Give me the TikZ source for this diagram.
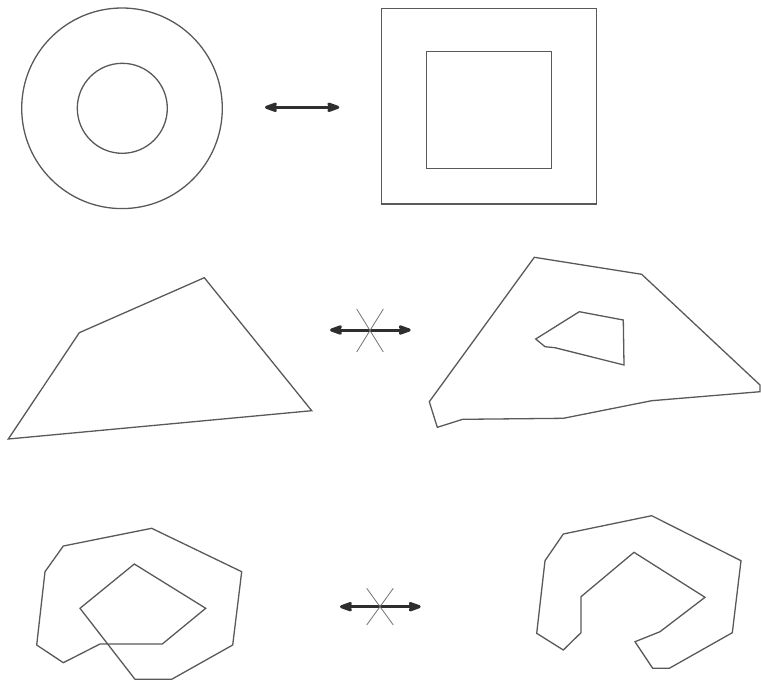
\documentclass[tikz,border=0pt]{standalone}
\usetikzlibrary{arrows.meta}
\begin{document}
\begin{tikzpicture}[
    x=1pt, y=-1pt,
    outline/.style={draw=black!65, line width=1.3pt, line join=miter},
    equiv/.style={{Stealth[length=17pt,width=12pt,inset=4pt,round]}-{Stealth[length=17pt,width=12pt,inset=4pt,round]},
      line width=3pt, draw=black!82},
    cross/.style={draw=black!55, line width=0.8pt}
  ]
  \useasboundingbox (0,0) rectangle (761,681);
  % top row
  \draw[outline] (122,108.3) circle[radius=100.3];
  \draw[outline] (122.3,108.3) circle[radius=45];
  \draw[outline] (381.7,8.3) rectangle (596.7,204);
  \draw[outline] (426.7,51.7) rectangle (551.7,168.3);
  \coordinate (l1) at (265,107.3);
  \coordinate (r1) at (339.3,107.3);
  \draw[equiv] (l1) -- (r1);
  % middle row
  \draw[outline] (204.3,277.7) -- (79.3,332.7) -- (8.3,439) -- (311.7,410.7) -- cycle;
  \draw[outline] (534.3,257.3) -- (641.7,274.3) -- (760,385) -- (760,391.7)
    -- (651.7,400.7) -- (563.3,418.3) -- (462.7,419.3) -- (437.3,427.3)
    -- (429.3,401.7) -- cycle;
  \draw[outline] (579.3,311.7) -- (623.3,320) -- (624,365) -- (555,347.7)
    -- (545,346.7) -- (535.7,339) -- cycle;
  \coordinate (l2) at (330,330);
  \coordinate (r2) at (410.7,330);
  \draw[equiv] (l2) -- (r2);
  \draw[cross] (356.7,309) -- (383.3,352) (383.3,309) -- (356.7,352);
  % bottom row
  \draw[outline] (63.3,546) -- (151.7,528.3) -- (241.7,571.7) -- (232.7,645)
    -- (171.7,679.3) -- (135,679.3) -- (80,608.3) -- (134.3,564)
    -- (205.7,608.3) -- (162.3,644) -- (100,644) -- (63.3,662.7)
    -- (36.7,645) -- (45,571.7) -- cycle;
  \draw[outline] (563.3,534) -- (651.7,515.7) -- (741,560.7) -- (732.3,632.7)
    -- (669.3,668.3) -- (652.7,668.3) -- (635,641.7) -- (660,631.7)
    -- (705,597.3) -- (634,552.3) -- (581,596.7) -- (581,632.7)
    -- (563.3,650) -- (536.7,633.3) -- (545,560.7) -- cycle;
  \coordinate (l3) at (340,606.7);
  \coordinate (r3) at (420.7,606.7);
  \draw[equiv] (l3) -- (r3);
  \draw[cross] (366.7,588.3) -- (393.3,625) (393.3,588.3) -- (366.7,625);
\end{tikzpicture}
\end{document}
